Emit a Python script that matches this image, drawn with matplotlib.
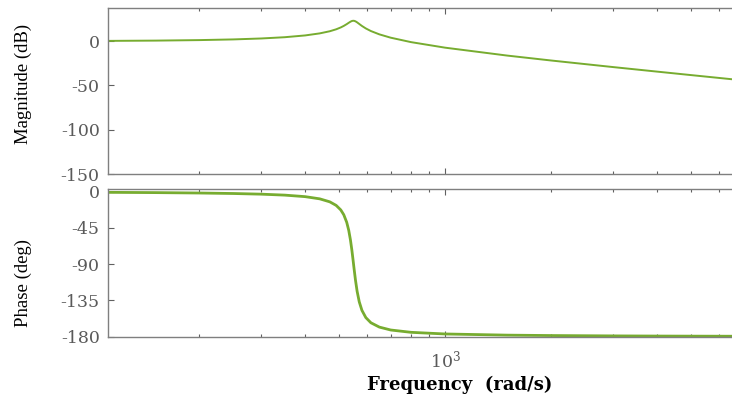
from matplotlib import rcParams
from matplotlib.pyplot import figure
from matplotlib.pyplot import close
from matplotlib.ticker import FixedLocator
from matplotlib.ticker import NullFormatter

IMAGE_DPI = 100
LINE_COLOR = "#77AC30"
AXIS_COLOR = "#7f7f7f"
LABEL_COLOR = "#5a5a5a"

rcParams["font.family"] = "DejaVu Serif"
rcParams["mathtext.fontset"] = "dejavuserif"
rcParams["axes.unicode_minus"] = False

# frequency response samples (rad/s, dB, deg)
freq = [110, 150, 200, 250, 300, 350, 400, 440, 470, 490, 505, 515, 525,
        532, 538, 543, 547, 551, 556, 562, 570, 580, 595, 615, 650, 700,
        800, 1000, 1500, 2000, 3000, 4000, 5000, 6530]
magnitude_db = [0.36, 0.67, 1.24, 2.02, 3.08, 4.51, 6.52, 8.83, 11.25,
                13.44, 15.56, 17.28, 19.28, 20.80, 22.02, 22.79, 23.08,
                23.02, 22.45, 21.29, 19.45, 17.22, 14.41, 11.48, 7.74, 3.98,
                -1.05, -7.31, -16.22, -21.78, -29.21, -34.33, -38.27, -42.95]
phase_deg = [-0.84, -1.18, -1.68, -2.30, -3.12, -4.30, -6.20, -8.92, -12.65,
             -17.08, -22.72, -28.69, -38.06, -48.04, -60.0, -72.6, -84.05,
             -95.93, -109.9, -123.77, -137.0, -147.5, -156.5, -162.9, -168.3,
             -171.9, -174.8, -176.85, -178.3, -178.8, -179.24, -179.44,
             -179.55, -179.66]

magnitude_ticks = [0, -50, -100, -150]
phase_ticks = [0, -45, -90, -135, -180]


def style_axes(ax):
    ax.set_xscale("log")
    ax.set_xlim(110, 6540)
    ax.spines["right"].set_visible(False)
    for side in ("left", "top", "bottom"):
        ax.spines[side].set_color(AXIS_COLOR)
        ax.spines[side].set_linewidth(1.0)
    ax.tick_params(
        which="both",
        direction="in",
        top=True,
        bottom=True,
        left=True,
        right=False,
        color="#606060",
        labelcolor=LABEL_COLOR,
        labelsize=12.5,
    )
    ax.tick_params(which="major", length=4, width=0.8)
    ax.tick_params(which="minor", length=2.5, width=0.8)
    ax.tick_params(axis="y", pad=6)
    ax.xaxis.set_minor_formatter(NullFormatter())


fig = figure(figsize=(7.32, 3.98), dpi=IMAGE_DPI)

axes_mag = fig.add_axes([0.1475, 0.5628, 0.8525, 0.4171])
axes_phase = fig.add_axes([0.1475, 0.1545, 0.8525, 0.3694], sharex=axes_mag)

axes_mag.plot(freq, magnitude_db, color=LINE_COLOR, linewidth=1.4)
axes_phase.plot(freq, phase_deg, color=LINE_COLOR, linewidth=2.0)

for ax in (axes_mag, axes_phase):
    style_axes(ax)

axes_mag.set_ylim(-150, 37.5)
axes_mag.yaxis.set_major_locator(FixedLocator(magnitude_ticks))
axes_mag.tick_params(axis="x", labelbottom=False)

axes_phase.set_ylim(-180, 2.7)
axes_phase.yaxis.set_major_locator(FixedLocator(phase_ticks))
axes_phase.tick_params(axis="x", pad=9)

fig.text(0.0314, 0.79, "Magnitude (dB)", rotation=90, ha="center",
         va="center", family="Liberation Serif", fontsize=13.5)
fig.text(0.0314, 0.29, "Phase (deg)", rotation=90, ha="center",
         va="center", family="Liberation Serif", fontsize=13.5)
fig.text(0.628, 0.02, "Frequency  (rad/s)", ha="center", va="baseline",
         fontweight="bold", fontsize=13)

fig.savefig("out.png", dpi=IMAGE_DPI)
close(fig)
